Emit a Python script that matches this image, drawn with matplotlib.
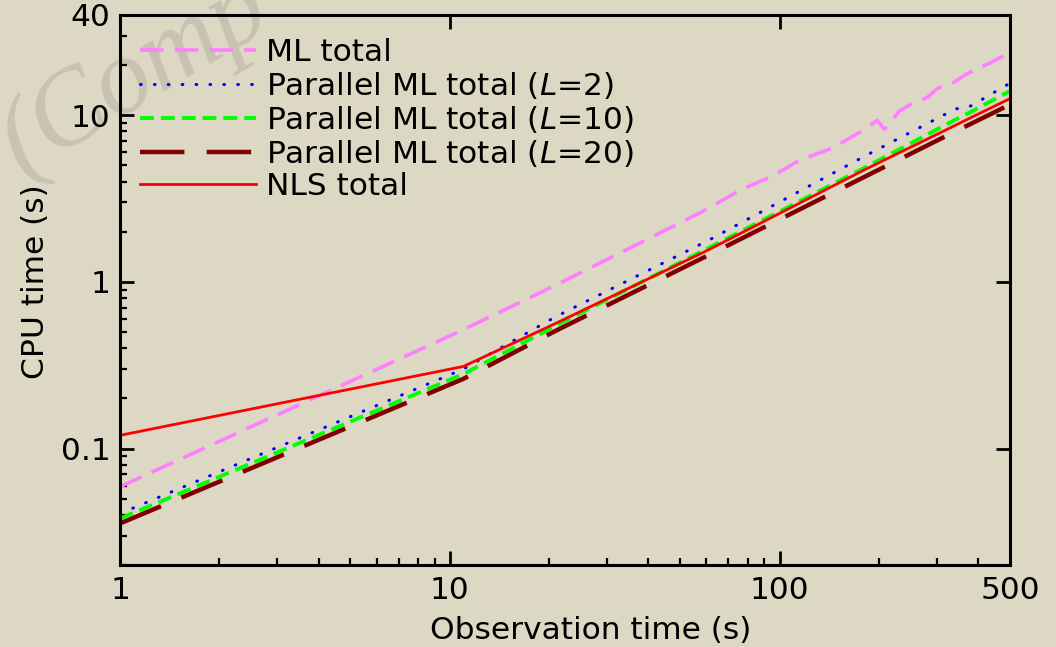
import numpy as np
import matplotlib
matplotlib.use("Agg")
import matplotlib.pyplot as plt
from matplotlib.ticker import NullFormatter

# observation times (s) where the runs were sampled
obs_t = [1, 11, 21, 61, 181, 341, 381, 500]
nls_total = [0.12, 0.311, 0.565, 1.56, 4.71, 8.7, 9.7, 12.6]
par_L2 = [0.0407, 0.30, 0.62, 1.78, 5.68, 10.9, 11.4, 15.6]
par_L10 = [0.038, 0.28, 0.547, 1.60, 4.84, 9.4, 10.5, 14.0]
par_L20 = [0.0355, 0.262, 0.51, 1.45, 4.27, 8.0, 8.9, 11.6]

# ML total is noisier, sampled separately
ml_t = [1, 11, 21.5, 57, 77, 95, 115, 144, 175, 198, 208, 231, 253, 281, 301, 339, 364, 398, 433, 481, 500]
ml_total = [0.059, 0.517, 0.98, 2.58, 3.6, 4.31, 5.37, 6.34, 7.9, 9.33, 8.24, 10.6, 11.8, 12.8, 14.5,
            15.8, 17.4, 19.1, 20.5, 22.9, 23.6]

xticks = [1, 10, 100, 500]
yticks = [0.1, 1, 10, 40]

bg = "#DDD8C3"
fs = 22.5
plt.rcParams['font.family'] = ['DejaVu Sans']
plt.rcParams['lines.scale_dashes'] = False
plt.rcParams['mathtext.fontset'] = 'dejavusans'

fig = plt.figure(figsize=(10.56, 6.47), dpi=100, facecolor=bg)
ax = fig.add_axes([120/1056, 1-565/647, 890/1056, 550/647])
ax.set_facecolor('none')

# faint watermark behind everything (clipped by the figure edge, as in the original)
fig.text(-0.016, 0.735, "(Comp", fontsize=78, family='Liberation Serif', style='italic',
         color='#C8C2B2', rotation=31, zorder=-5)

ax.plot(ml_t, ml_total, color='#FF80FF', lw=2.6, dashes=(17, 8), label='ML total')
ax.plot(obs_t, par_L2, color='#0000FF', lw=2.2, dashes=(0.5, 9.5), dash_capstyle='round',
        label='Parallel ML total ($L$=2)')
ax.plot(obs_t, par_L10, color='#00FF00', lw=2.8, dashes=(10, 5), label='Parallel ML total ($L$=10)')
ax.plot(obs_t, par_L20, color='#800000', lw=3.2, dashes=(32, 16), label='Parallel ML total ($L$=20)')
ax.plot(obs_t, nls_total, color='#FF0000', lw=2.0, label='NLS total')

ax.set_xscale('log')
ax.set_yscale('log')
ax.set_xlim(1, 500)
ax.set_ylim(0.02, 40)
ax.set_xticks(xticks, [str(v) for v in xticks])
ax.set_yticks(yticks, ['0.1', '1', '10', '40'])
ax.xaxis.set_minor_formatter(NullFormatter())
ax.yaxis.set_minor_formatter(NullFormatter())

for s in ax.spines.values():
    s.set_linewidth(2.2)
ax.tick_params(which='major', direction='in', length=10, width=2, labelsize=fs,
               top=True, right=True)
ax.tick_params(which='minor', direction='in', length=5, width=1.6, top=False, right=False)
ax.tick_params(axis='x', which='major', pad=8)
ax.tick_params(axis='y', which='major', pad=7)

ax.set_xlabel('Observation time (s)', fontsize=fs)
ax.set_ylabel('CPU time (s)', fontsize=fs)
ax.xaxis.set_label_coords(0.529, -0.093)
ax.yaxis.set_label_coords(-0.079, 0.516)

ax.legend(loc='upper left', bbox_to_anchor=(0.0225, 0.959), frameon=False, fontsize=fs,
          handlelength=3.7, handletextpad=0.33, labelspacing=0.1, borderaxespad=0, borderpad=0)

fig.savefig('out.png', dpi=100, facecolor=bg)
